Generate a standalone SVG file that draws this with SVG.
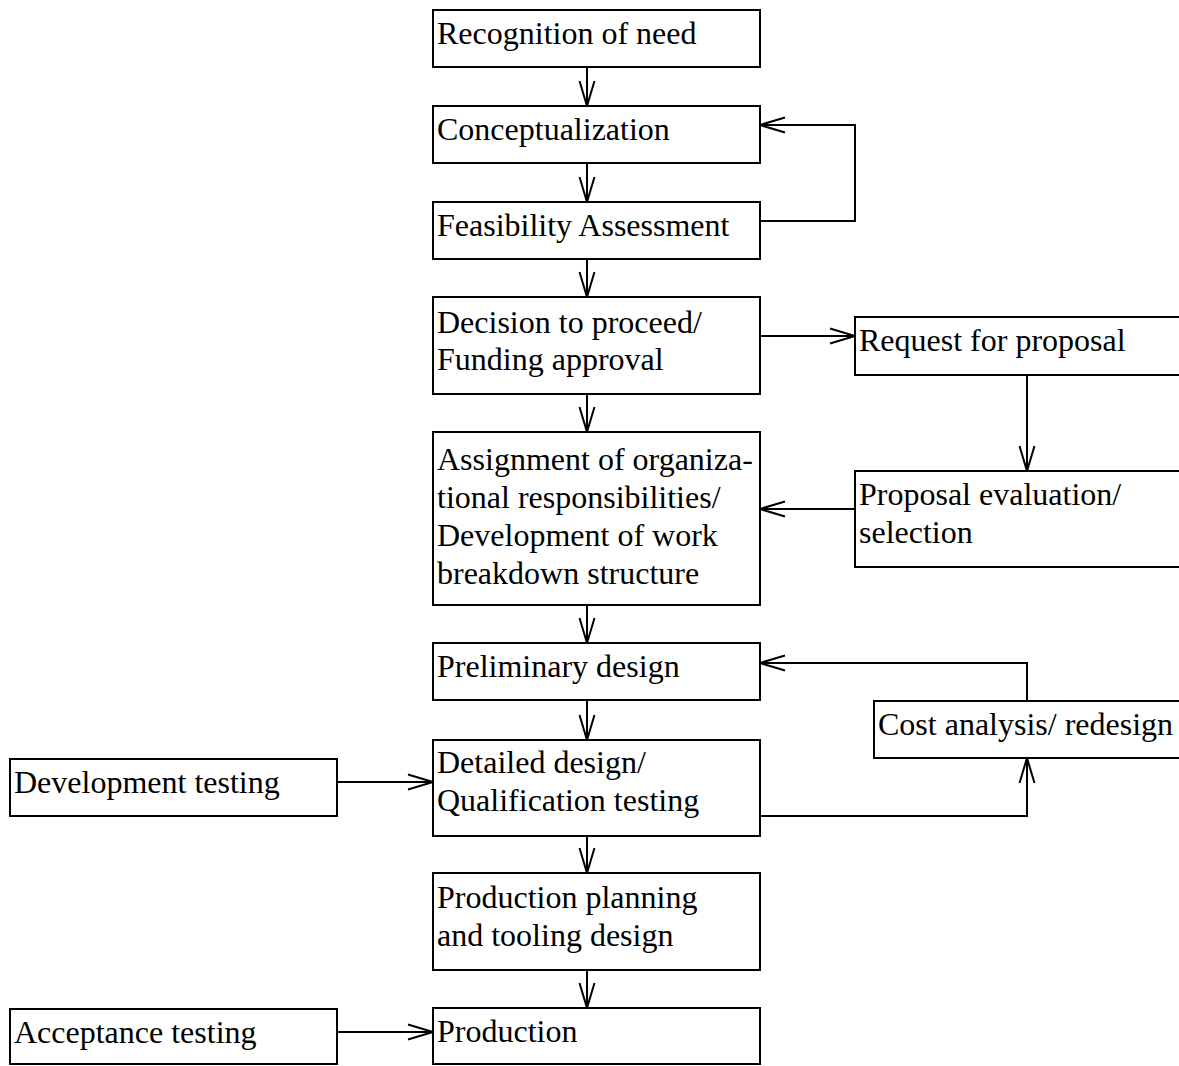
<svg xmlns="http://www.w3.org/2000/svg" width="1179" height="1066" viewBox="0 0 1179 1066">
<defs>
<marker id="arr" markerWidth="30" markerHeight="20" viewBox="0 0 30 20" refX="26" refY="10" orient="auto" markerUnits="userSpaceOnUse">
<path d="M1,2.5 L26,10 L1,17.5" fill="none" stroke="#000" stroke-width="2"/>
</marker>
<style>
.n{fill:#fff;stroke:#000;stroke-width:2}
text{font-family:"Liberation Serif","Times New Roman",serif;font-size:32px;fill:#000}
.c{fill:none;stroke:#000;stroke-width:2;marker-end:url(#arr)}
</style>
</defs>
<rect x="0" y="0" width="1179" height="1066" fill="#fff"/>
<g id="connectors">
<line class="c" x1="587" y1="67" x2="587" y2="106"/>
<line class="c" x1="587" y1="163" x2="587" y2="202"/>
<line class="c" x1="587" y1="259" x2="587" y2="297"/>
<line class="c" x1="587" y1="394" x2="587" y2="432"/>
<line class="c" x1="587" y1="605" x2="587" y2="643"/>
<line class="c" x1="587" y1="700" x2="587" y2="740"/>
<line class="c" x1="587" y1="836" x2="587" y2="873"/>
<line class="c" x1="587" y1="970" x2="587" y2="1008"/>
<polyline class="c" points="760,221 855,221 855,125 760,125"/>
<line class="c" x1="760" y1="336" x2="855" y2="336"/>
<line class="c" x1="1027" y1="375" x2="1027" y2="471"/>
<line class="c" x1="855" y1="509" x2="760" y2="509"/>
<polyline class="c" points="1027,701 1027,663 760,663"/>
<polyline class="c" points="760,816 1027,816 1027,758"/>
<line class="c" x1="337" y1="782" x2="433" y2="782"/>
<line class="c" x1="337" y1="1032" x2="433" y2="1032"/>
</g>
<g id="recognition"><rect class="n" x="433" y="10" width="327" height="57"/><text x="437" y="44">Recognition of need</text></g>
<g id="conceptualization"><rect class="n" x="433" y="106" width="327" height="57"/><text x="437" y="140">Conceptualization</text></g>
<g id="feasibility"><rect class="n" x="433" y="202" width="327" height="57"/><text x="437" y="236">Feasibility Assessment</text></g>
<g id="decision"><rect class="n" x="433" y="297" width="327" height="97"/><text x="437" y="333">Decision to proceed/</text><text x="437" y="370">Funding approval</text></g>
<g id="assignment"><rect class="n" x="433" y="432" width="327" height="173"/><text x="437" y="470">Assignment of organiza-</text><text x="437" y="508">tional responsibilities/</text><text x="437" y="546">Development of work</text><text x="437" y="584">breakdown structure</text></g>
<g id="preliminary"><rect class="n" x="433" y="643" width="327" height="57"/><text x="437" y="677">Preliminary design</text></g>
<g id="detailed"><rect class="n" x="433" y="740" width="327" height="96"/><text x="437" y="773">Detailed design/</text><text x="437" y="811">Qualification testing</text></g>
<g id="planning"><rect class="n" x="433" y="873" width="327" height="97"/><text x="437" y="908">Production planning</text><text x="437" y="946">and tooling design</text></g>
<g id="production"><rect class="n" x="433" y="1008" width="327" height="56"/><text x="437" y="1042">Production</text></g>
<g id="rfp"><rect class="n" x="855" y="317" width="340" height="58"/><text x="859" y="351">Request for proposal</text></g>
<g id="evaluation"><rect class="n" x="855" y="471" width="340" height="96"/><text x="859" y="505">Proposal evaluation/</text><text x="859" y="543">selection</text></g>
<g id="cost"><rect class="n" x="874" y="701" width="320" height="57"/><text x="878" y="735">Cost analysis/ redesign</text></g>
<g id="devtest"><rect class="n" x="10" y="759" width="327" height="57"/><text x="14" y="793">Development testing</text></g>
<g id="acctest"><rect class="n" x="10" y="1009" width="327" height="55"/><text x="14" y="1043">Acceptance testing</text></g>
</svg>
